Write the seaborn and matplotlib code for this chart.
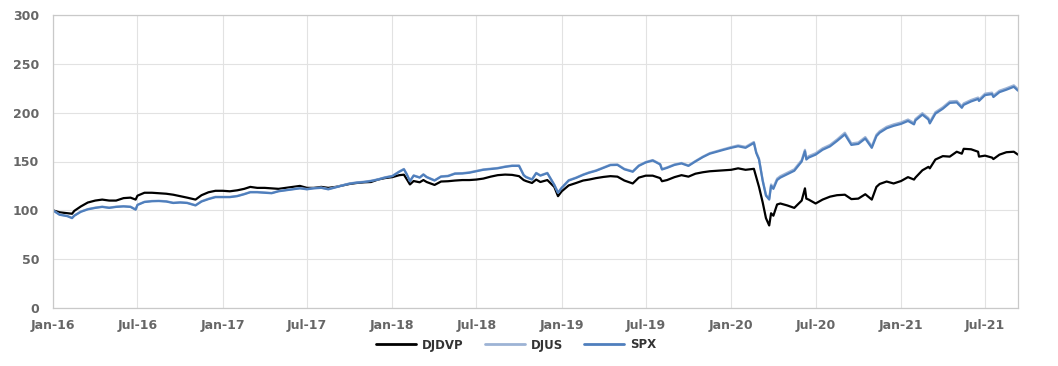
import matplotlib
matplotlib.use("Agg")
import matplotlib.pyplot as plt
import matplotlib.dates as mdates
import pandas as pd
import seaborn as sns

dates = [
    "2016-01-01", "2016-01-15", "2016-02-01", "2016-02-11", "2016-02-16", "2016-03-01", "2016-03-16",
    "2016-04-01", "2016-04-16", "2016-05-01", "2016-05-16", "2016-06-01", "2016-06-16", "2016-06-27",
    "2016-07-01", "2016-07-16", "2016-08-01", "2016-08-16", "2016-09-01", "2016-09-16", "2016-10-01",
    "2016-10-16", "2016-11-03", "2016-11-16", "2016-12-01", "2016-12-16",
    "2017-01-01", "2017-01-16", "2017-02-01", "2017-02-16", "2017-03-01", "2017-03-16", "2017-04-01",
    "2017-04-16", "2017-05-01", "2017-05-16", "2017-06-01", "2017-06-16", "2017-07-01", "2017-07-16",
    "2017-08-01", "2017-08-16", "2017-09-01", "2017-09-16", "2017-10-01", "2017-10-16", "2017-11-01",
    "2017-11-16", "2017-12-01", "2017-12-16",
    "2018-01-01", "2018-01-16", "2018-01-26", "2018-02-01", "2018-02-08", "2018-02-16", "2018-03-01",
    "2018-03-09", "2018-03-16", "2018-04-02", "2018-04-16", "2018-05-01", "2018-05-16", "2018-06-01",
    "2018-06-16", "2018-07-01", "2018-07-16", "2018-08-01", "2018-08-16", "2018-09-01", "2018-09-16",
    "2018-10-01", "2018-10-11", "2018-10-16", "2018-10-29", "2018-11-07", "2018-11-16", "2018-12-01",
    "2018-12-16", "2018-12-24",
    "2019-01-01", "2019-01-16", "2019-02-01", "2019-02-16", "2019-03-01", "2019-03-16", "2019-04-01",
    "2019-04-16", "2019-05-01", "2019-05-16", "2019-06-03", "2019-06-16", "2019-07-01", "2019-07-16",
    "2019-08-01", "2019-08-05", "2019-08-16", "2019-09-01", "2019-09-16", "2019-10-01", "2019-10-16",
    "2019-11-01", "2019-11-16", "2019-12-01", "2019-12-16",
    "2020-01-01", "2020-01-16", "2020-02-01", "2020-02-19", "2020-02-24", "2020-03-01", "2020-03-09",
    "2020-03-16", "2020-03-23", "2020-03-27", "2020-04-01", "2020-04-09", "2020-04-16", "2020-05-01",
    "2020-05-16", "2020-06-01", "2020-06-08", "2020-06-11", "2020-06-16", "2020-07-01", "2020-07-16",
    "2020-08-01", "2020-08-16", "2020-09-02", "2020-09-16", "2020-10-01", "2020-10-16", "2020-10-30",
    "2020-11-09", "2020-11-16", "2020-12-01", "2020-12-16",
    "2021-01-01", "2021-01-16", "2021-01-29", "2021-02-01", "2021-02-16", "2021-03-01", "2021-03-04",
    "2021-03-16", "2021-04-01", "2021-04-16", "2021-05-01", "2021-05-12", "2021-05-16", "2021-06-01",
    "2021-06-16", "2021-06-18", "2021-07-01", "2021-07-16", "2021-07-19", "2021-08-01", "2021-08-16",
    "2021-09-01", "2021-09-10",
]

djdvp = [
    100, 98, 97, 96.5, 99.5, 104, 108, 110, 111, 110, 110, 112.5, 113, 111, 115, 118, 118, 117.5, 117,
    116, 114.5, 113, 111, 115.5, 118.5, 120,
    120, 119.5, 120.5, 122, 124, 123, 123, 122.5, 122, 123, 124, 125, 123, 123, 124, 123, 124, 125.5,
    127, 128, 128.7, 129, 131.5, 133,
    134, 136, 136.5, 132, 126.5, 130, 128.7, 131, 129, 126, 129.5, 129.8, 130.5, 131, 131, 131.5, 132.5,
    134.5, 136, 136.6, 136.3, 135, 131, 130, 128, 131.5, 129, 131, 124, 114.5,
    119.5, 125.5, 128, 130.5, 131.5, 133, 134.2, 135, 134.5, 130.5, 127.5, 133.5, 135.5, 135.5, 133,
    129.8, 131, 134, 136, 134.5, 137.5, 139, 140, 140.5, 141,
    141.5, 143, 141.5, 142.5, 134, 124, 108, 92, 84.5, 97, 94.5, 106, 107, 105, 102.5, 110, 122.5, 112,
    111, 107, 111, 114, 115.5, 116, 111.5, 112, 116.5, 111, 124, 127, 129.5, 127.5,
    130, 134, 131.5, 133.5, 141, 144.5, 143, 152, 155.5, 155, 160, 158, 163, 162.5, 160, 155, 156, 154,
    152.5, 157, 159.5, 160, 157,
]

djus = [
    100, 95.8, 94.3, 92.3, 94.8, 98.8, 101.3, 102.8, 103.8, 102.8, 103.8, 104.3, 103.8, 101, 105.8,
    108.8, 109.6, 109.8, 109.3, 107.8, 108.3, 107.8, 105.3, 109.4, 111.9, 113.9,
    113.8, 113.8, 114.8, 116.8, 118.8, 118.8, 118.3, 117.8, 119.8, 120.8, 121.8, 122.8, 121.8, 122.8,
    123.3, 121.8, 123.8, 125.8, 127.6, 128.6, 129.3, 130.3, 131.8, 133.8,
    135.3, 139.8, 142.4, 137.3, 130.1, 135.8, 133.8, 136.9, 134.3, 130.8, 134.8, 135.4, 137.9, 138.1,
    138.9, 140.4, 141.9, 142.7, 143.4, 144.9, 145.9, 145.9, 136.4, 134.4, 131.8, 138.4, 135.9, 138.4,
    126.3, 118.2,
    123.3, 130.9, 133.6, 136.7, 138.9, 140.9, 143.9, 146.8, 147, 142.5, 140, 146, 149.5, 151.5, 147.5,
    142.3, 144, 147, 148.5, 146, 150.5, 155, 158.6, 160.6, 162.6,
    164.8, 166.5, 165, 170, 159.8, 153, 131, 116, 112, 126.5, 123.5, 132.5, 135, 138.5, 142, 151.5, 162,
    153.5, 155.5, 158.5, 163.5, 167, 172.5, 179.5, 168.5, 169.5, 175, 165.5, 177.5, 181, 185.5, 188,
    190, 193, 189.5, 193.5, 199.5, 194.5, 190.5, 200.5, 205.5, 211.5, 212, 206.5, 209.5, 213, 215.5,
    213.5, 219.5, 220.5, 217.5, 222.5, 225, 228, 224,
]

spx = [
    100, 95.5, 94, 92, 94.5, 98.5, 101, 102.5, 103.5, 102.5, 103.5, 104, 103.5, 100.7, 105.5, 108.5,
    109.3, 109.5, 109, 107.5, 108, 107.5, 105, 109, 111.5, 113.5,
    113.5, 113.5, 114.5, 116.5, 118.5, 118.5, 118, 117.5, 119.5, 120.5, 121.5, 122.5, 121.5, 122.5, 123,
    121.5, 123.5, 125.5, 127.3, 128.3, 129, 130, 131.5, 133.5,
    135, 139.5, 142, 137, 129.8, 135.5, 133.5, 136.6, 134, 130.5, 134.5, 135, 137.5, 137.7, 138.5, 140,
    141.5, 142.3, 143, 144.5, 145.5, 145.5, 136, 134, 131.5, 138, 135.5, 138, 126, 118,
    123, 130.5, 133.2, 136.3, 138.5, 140.5, 143.5, 146.3, 146.5, 142, 139.5, 145.5, 149, 151, 147, 141.8,
    143.5, 146.5, 148, 145.5, 150, 154.5, 158, 160, 162,
    164, 165.6, 164, 169, 158.8, 152, 130, 115, 111, 125, 122, 131, 133.5, 137, 140.5, 150, 160.5, 152,
    154, 157, 162, 165.5, 171, 177.7, 167, 168, 173.5, 164, 176, 179.5, 184, 186.5,
    188.5, 191.5, 188, 192, 198, 193, 189, 199, 204, 210, 210.5, 205, 208, 211.5, 214, 212, 218, 219,
    216, 221, 223.5, 226.5, 222.5,
]

series_names = ["DJDVP", "DJUS", "SPX"]
series_colors = ["#000000", "#9db3d5", "#4f7fbd"]
y_ticks = [0, 50, 100, 150, 200, 250, 300]

df = pd.DataFrame({"Date": pd.to_datetime(dates), "DJDVP": djdvp, "DJUS": djus, "SPX": spx})
long_df = df.melt(id_vars="Date", var_name="Index", value_name="Value")

sns.set_theme(style="white")
plt.rcParams["font.family"] = ["DejaVu Sans"]

W, H = 1058, 366
fig = plt.figure(figsize=(W / 100, H / 100), dpi=100)
ax = fig.add_axes([53 / W, 1 - 308 / H, (1018 - 53) / W, (308 - 15) / H])

sns.lineplot(
    data=long_df, x="Date", y="Value", hue="Index", hue_order=series_names,
    palette=dict(zip(series_names, series_colors)), linewidth=1.6, ax=ax,
)

ax.set_xlim(pd.Timestamp("2016-01-01"), pd.Timestamp("2021-09-10"))
ax.set_ylim(0, 300)
ax.set_yticks(y_ticks)
ax.xaxis.set_major_locator(mdates.MonthLocator(bymonth=[1, 7]))
ax.xaxis.set_major_formatter(mdates.DateFormatter("%b-%y"))
ax.set_xlabel("")
ax.set_ylabel("")
ax.grid(True, color="#e2e2e2", linewidth=0.8)
ax.set_axisbelow(True)
for s in ax.spines.values():
    s.set_color("#c9c9c9")
    s.set_linewidth(0.9)
ax.tick_params(axis="x", length=4, width=0.9, color="#c9c9c9", pad=4,
               labelsize=9, labelcolor="#666666")
ax.tick_params(axis="y", length=0, pad=10, labelsize=9, labelcolor="#666666")
for lbl in ax.get_xticklabels() + ax.get_yticklabels():
    lbl.set_fontweight("bold")

handles, labels = ax.get_legend_handles_labels()
if ax.get_legend() is not None:
    ax.get_legend().remove()
leg = fig.legend(
    handles, labels, loc="center", bbox_to_anchor=(516 / W, 1 - 345 / H), ncol=3,
    frameon=False, prop={"weight": "bold", "size": 8.5}, handlelength=3.4,
    handletextpad=0.5, columnspacing=1.8,
)
for t in leg.get_texts():
    t.set_color("#333333")
for lh in leg.get_lines():
    lh.set_linewidth(2)

fig.savefig("out.png", dpi=100)
